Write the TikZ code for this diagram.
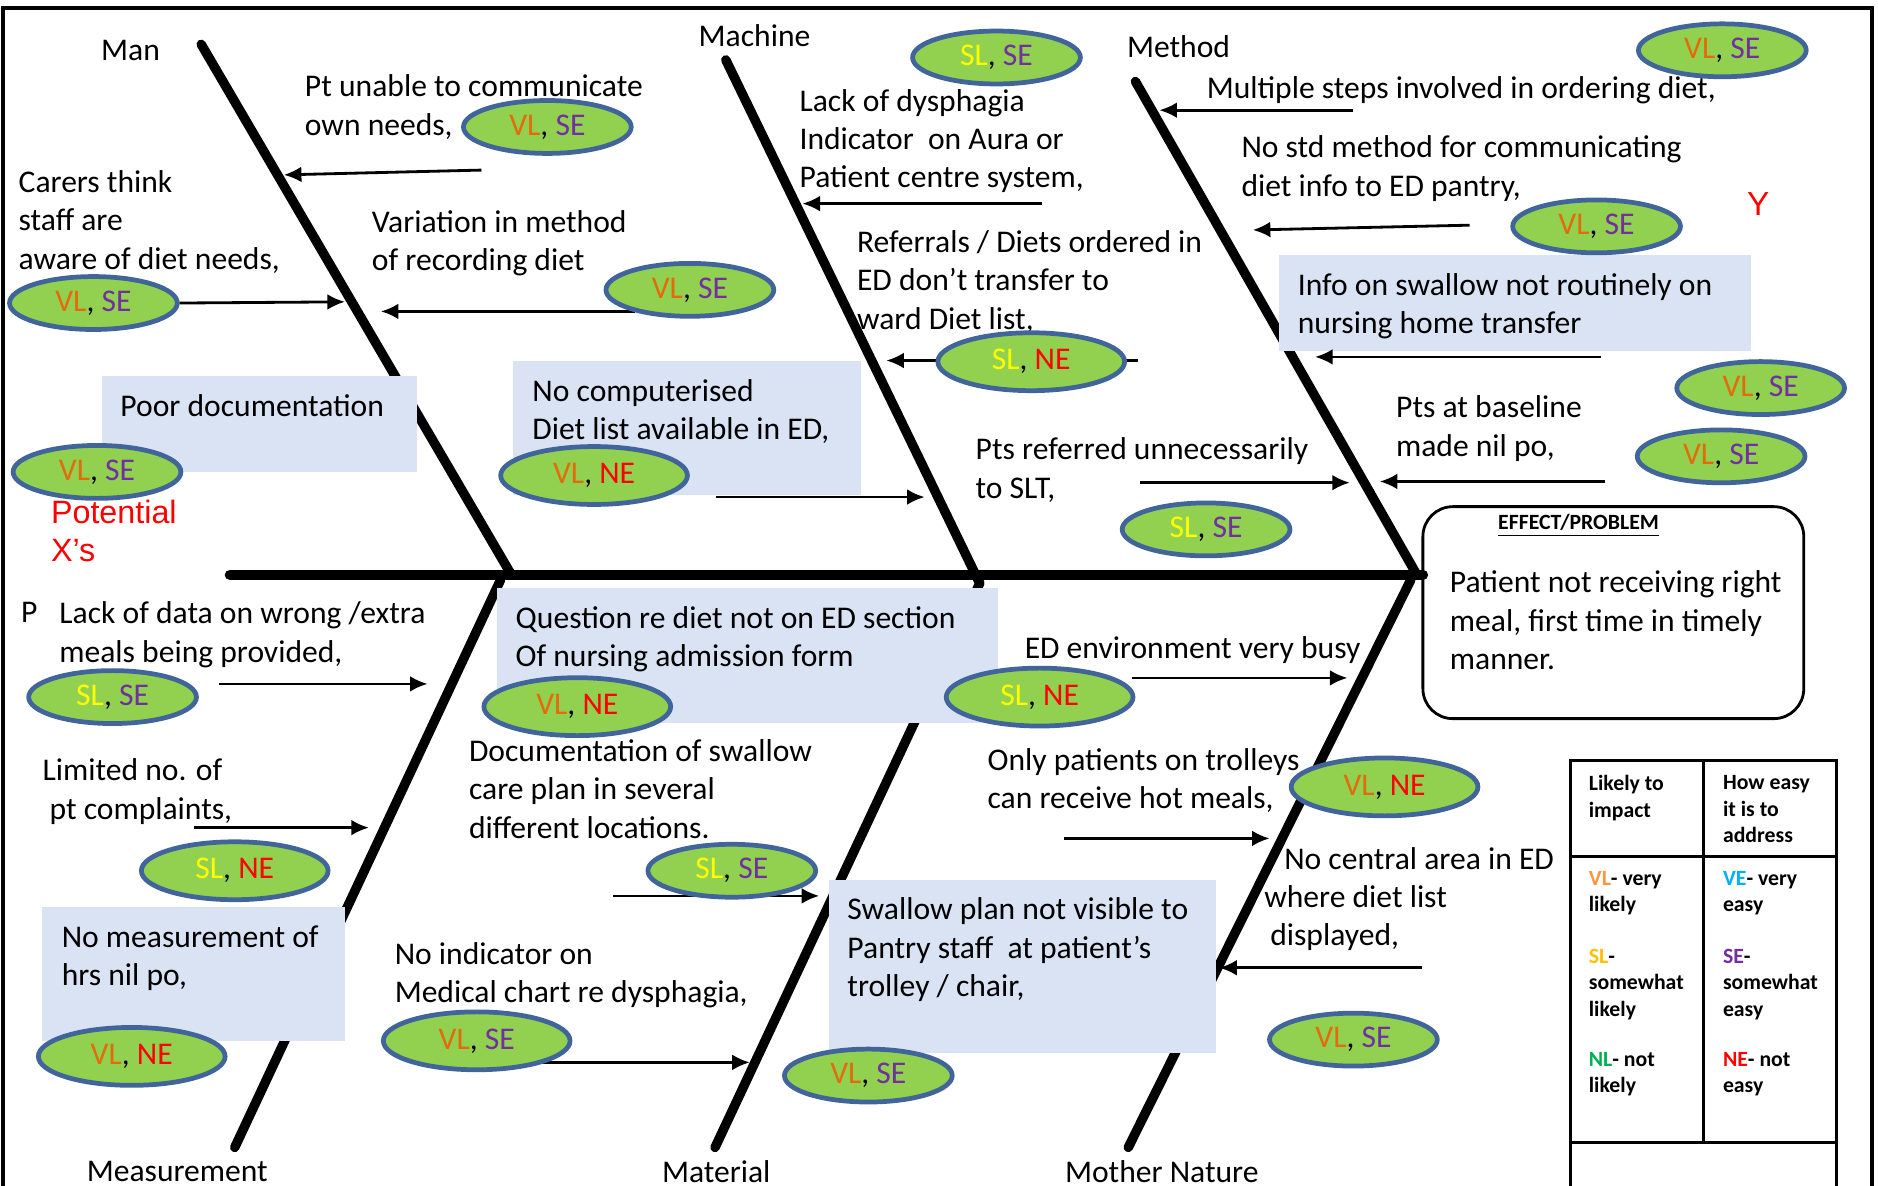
\documentclass[tikz,border=0pt]{standalone}
\usepackage{fontspec}
\setmainfont{Carlito}
\newfontfamily\arialfont{Liberation Sans}
\usepackage{xcolor}
\usepackage{tikz}
\usetikzlibrary{shapes,arrows,positioning,calc,arrows.meta}

\definecolor{notefill}{HTML}{DAE3F3}
\definecolor{leafgreen}{HTML}{92D050}
\definecolor{rimblue}{HTML}{41659A}
\definecolor{vlorange}{HTML}{E36C0A}
\definecolor{slyellow}{HTML}{FFFF00}
\definecolor{sepurple}{HTML}{7030A0}
\definecolor{nered}{HTML}{FF0000}
\definecolor{lgvl}{HTML}{F79646}
\definecolor{lgsl}{HTML}{FFC000}
\definecolor{lgnl}{HTML}{00B050}
\definecolor{lgve}{HTML}{00B0F0}

\newcommand{\rVL}{\textcolor{vlorange}{VL}}
\newcommand{\rSL}{\textcolor{slyellow}{SL}}
\newcommand{\rSE}{\textcolor{sepurple}{SE}}
\newcommand{\rNE}{\textcolor{nered}{NE}}

\tikzset{
    bone/.style={line width=2.7pt, line cap=round},
    spine/.style={line width=3pt, line cap=round},
    pointer/.style={line width=0.8pt, -{Latex[length=5pt,width=4.5pt]}},
    causetext/.style={anchor=north west, align=left, inner sep=0pt},
    rating/.style={ellipse, draw=rimblue, fill=leafgreen, line width=1.35pt, inner sep=0pt, minimum width=1.68cm, minimum height=0.53cm},
    ratingwide/.style={rating, minimum width=1.87cm, minimum height=0.58cm},
    legendtext/.style={anchor=north west, align=left, inner sep=0pt, font=\fontsize{6.2}{7.5}\selectfont\bfseries},
}

\begin{document}
\begin{tikzpicture}[x=0.012cm, y=-0.012cm, font=\fontsize{9}{10.9}\selectfont]
    \useasboundingbox (0,0) rectangle (1568,990);
    \draw [line width=1.1pt] (2.5,990) -- (2.5,6.5) -- (1563,6.5) -- (1563,990);

    \coordinate (man0) at (168,37);
    \coordinate (man1) at (427,480);
    \coordinate (mach0) at (606,50);
    \coordinate (mach1) at (818,487);
    \coordinate (meth0) at (948,68);
    \coordinate (meth1) at (1183,480);
    \coordinate (meas0) at (196,958);
    \coordinate (meas1) at (418,484);
    \coordinate (mat0) at (597,958);
    \coordinate (mat1) at (818,487);
    \coordinate (moth0) at (942,958);
    \coordinate (moth1) at (1178,484);
    \coordinate (tail) at (192,480);
    \coordinate (head) at (1188,480);
    \draw [spine] (tail) -- (head);
    \draw [bone] (man0) -- (man1);
    \draw [bone] (mach0) -- (mach1);
    \draw [bone] (meth0) -- (meth1);
    \draw [bone] (meas0) -- (meas1);
    \draw [bone] (mat0) -- (mat1);
    \draw [bone] (moth0) -- (moth1);

    \node (lMan) at (109,42) {Man};
    \node (lMachine) at (630,30) {Machine};
    \node (lMethod) at (984,39) {Method};
    \node (lMeas) at (148,978) {Measurement};
    \node (lMat) at (598,978) {Material};
    \node (lMoth) at (970,978) {Mother Nature};

    \fill [notefill] (85,314) rectangle (348,394);
    \fill [notefill] (428,301) rectangle (719,413);
    \fill [notefill] (1068,213) rectangle (1462,293);
    \fill [notefill] (415,491) rectangle (833,604);
    \fill [notefill] (35,757) rectangle (288,869);
    \fill [notefill] (692,735) rectangle (1015,879);

    \node [causetext] (tPoor) at (100,329) {Poor documentation};
    \node [causetext] (tComp) at (444,316) {No computerised\\Diet list available in ED,};
    \node [causetext] (tInfo) at (1083,228) {Info on swallow not routinely on\\nursing home transfer};
    \node [causetext] (tQuest) at (430,506) {Question re diet not on ED section\\Of nursing admission form};
    \node [causetext] (tNoMeas) at (51,772) {No measurement of\\hrs nil po,};
    \node [causetext] (tSwal) at (707,749) {Swallow plan not visible to\\Pantry staff\ \ at patient’s\\trolley / chair,};

    \node [causetext] (tPt) at (254,62) {Pt unable to communicate\\own needs,};
    \node [causetext] (tCarers) at (15,142) {Carers think\\staff are\\aware of diet needs,};
    \node [causetext] (tVar) at (310,175) {Variation in method\\of recording diet};
    \node [causetext] (tLack) at (667,74) {Lack of dysphagia\\Indicator\ \ on Aura or\\Patient centre system,};
    \node [causetext] (tRef) at (715,192) {Referrals / Diets ordered in\\ED don’t transfer to\\ward Diet list,};
    \node [causetext] (tMulti) at (1007,63) {Multiple steps involved in ordering diet,};
    \node [causetext] (tStd) at (1036,113) {No std method for communicating\\diet info to ED pantry,};
    \node [causetext] (tBase) at (1165,330) {Pts at baseline\\made nil po,};
    \node [causetext] (tSlt) at (814,365) {Pts referred unnecessarily\\to SLT,};
    \node [causetext, text=nered, font=\arialfont\fontsize{9.2}{10.9}\selectfont] (tPot) at (42,417) {Potential\\X’s};
    \node [text=nered, font=\arialfont\fontsize{9.5}{11}\selectfont] (tY) at (1468,170) {Y};
    \node [causetext] (tP) at (17,502) {P};
    \node [causetext] (tData) at (49,502) {Lack of data on wrong /extra\\meals being provided,};
    \node [causetext] (tLimited) at (35,633) {Limited no. of\\\hspace*{0.07cm}pt complaints,};
    \node [causetext] (tDocu) at (391,617) {Documentation of swallow\\care plan in several\\different locations.};
    \node [causetext] (tNoInd) at (329,786) {No indicator on\\Medical chart re dysphagia,};
    \node [causetext] (tBusy) at (855,531) {ED environment very busy};
    \node [causetext] (tTroll) at (824,624) {Only patients on trolleys\\can receive hot meals,};
    \node [causetext] (tCentr) at (1055,707) {\hspace*{0.2cm}No central area in ED\\where diet list\\\hspace*{0.06cm}displayed,};

    \draw [line width=0.8pt, rounded corners=0.3cm] (1188,423) rectangle (1506,600);
    \node [font=\fontsize{6.2}{7.5}\selectfont\bfseries] (effTitle) at (1318,439) {\underline{EFFECT/PROBLEM}};
    \node [causetext] (effText) at (1210,476) {Patient not receiving right\\meal, first time in timely\\manner.};

    \draw [line width=0.8pt] (1311,990) -- (1311,635) -- (1533,635) -- (1533,990);
    \draw [line width=0.8pt] (1422,635) -- (1422,954);
    \draw [line width=0.8pt] (1311,715) -- (1533,715);
    \draw [line width=0.8pt] (1311,954) -- (1533,954);
    \node [legendtext] (lgHead1) at (1326,647) {Likely to\\impact};
    \node [legendtext] (lgHead2) at (1438,647) {How easy\\it is to\\address};
    \node [legendtext] (lgVL) at (1326,727) {\textcolor{lgvl}{VL}- very\\likely};
    \node [legendtext] (lgSL) at (1326,792) {\textcolor{lgsl}{SL}-\\somewhat\\likely};
    \node [legendtext] (lgNL) at (1326,878) {\textcolor{lgnl}{NL}- not\\likely};
    \node [legendtext] (lgVE) at (1438,727) {\textcolor{lgve}{VE}- very\\easy};
    \node [legendtext] (lgSE) at (1438,792) {\textcolor{sepurple}{SE}-\\somewhat\\easy};
    \node [legendtext] (lgNE) at (1438,878) {\textcolor{nered}{NE}- not\\easy};

    \coordinate (pt0) at (402,142);
    \coordinate (pt1) at (237,146);
    \coordinate (carers1) at (288,252);
    \coordinate (var0) at (530,260);
    \coordinate (var1) at (318,260);
    \coordinate (lack0) at (870,170);
    \coordinate (lack1) at (670,170);
    \coordinate (ref0) at (950,301);
    \coordinate (ref1) at (740,301);
    \coordinate (comp0) at (598,415);
    \coordinate (comp1) at (772,415);
    \coordinate (multi0) at (1130,92);
    \coordinate (multi1) at (968,92);
    \coordinate (std0) at (1227,188);
    \coordinate (std1) at (1046,192);
    \coordinate (info0) at (1337,298);
    \coordinate (info1) at (1098,298);
    \coordinate (slt0) at (952,403);
    \coordinate (slt1) at (1127,403);
    \coordinate (base0) at (1340,402);
    \coordinate (base1) at (1152,402);
    \coordinate (data0) at (183,571);
    \coordinate (data1) at (357,571);
    \coordinate (compl0) at (162,691);
    \coordinate (compl1) at (308,691);
    \coordinate (docu0) at (512,748);
    \coordinate (docu1) at (684,748);
    \coordinate (ind0) at (450,887);
    \coordinate (ind1) at (626,887);
    \coordinate (busy0) at (945,566);
    \coordinate (busy1) at (1125,566);
    \coordinate (troll0) at (888,700);
    \coordinate (troll1) at (1060,700);
    \coordinate (centr0) at (1187,808);
    \coordinate (centr1) at (1018,808);

    \draw [pointer] (pt0) -- (pt1);
    \draw [pointer] (var0) -- (var1);
    \draw [pointer] (lack0) -- (lack1);
    \draw [pointer] (ref0) -- (ref1);
    \draw [pointer] (comp0) -- (comp1);
    \draw [pointer] (multi0) -- (multi1);
    \draw [pointer] (std0) -- (std1);
    \draw [pointer] (info0) -- (info1);
    \draw [pointer] (slt0) -- (slt1);
    \draw [pointer] (base0) -- (base1);
    \draw [pointer] (data0) -- (data1);
    \draw [pointer] (compl0) -- (compl1);
    \draw [pointer] (docu0) -- (docu1);
    \draw [pointer] (ind0) -- (ind1);
    \draw [pointer] (busy0) -- (busy1);
    \draw [pointer] (troll0) -- (troll1);
    \draw [pointer] (centr0) -- (centr1);

    \node [rating] (rPt) at (457,106) {\rVL, \rSE};
    \node [rating] (rCarers) at (78,253) {\rVL, \rSE};
    \node [rating] (rVar) at (576,242) {\rVL, \rSE};
    \node [rating] (rLack) at (832,48) {\rSL, \rSE};
    \node [rating] (rMulti) at (1438,42) {\rVL, \rSE};
    \node [rating] (rStd) at (1333,189) {\rVL, \rSE};
    \node [ratingwide] (rRef) at (861,302) {\rSL, \rNE};
    \node [rating] (rPoor) at (81,394) {\rVL, \rSE};
    \node [ratingwide] (rComp) at (496,397) {\rVL, \rNE};
    \node [rating] (rInfo) at (1470,324) {\rVL, \rSE};
    \node [rating] (rBase) at (1437,381) {\rVL, \rSE};
    \node [rating] (rSlt) at (1007,442) {\rSL, \rSE};
    \node [rating] (rData) at (94,582) {\rSL, \rSE};
    \node [ratingwide] (rQuest) at (482,590) {\rVL, \rNE};
    \node [ratingwide] (rBusy) at (868,582) {\rSL, \rNE};
    \node [ratingwide] (rCompl) at (196,727) {\rSL, \rNE};
    \node [rating] (rDocu) at (611,727) {\rSL, \rSE};
    \node [ratingwide] (rTroll) at (1156,657) {\rVL, \rNE};
    \node [ratingwide] (rNoMeas) at (110,882) {\rVL, \rNE};
    \node [ratingwide] (rInd) at (398,869) {\rVL, \rSE};
    \node [rating] (rSwal) at (725,898) {\rVL, \rSE};
    \node [rating] (rCentr) at (1130,868) {\rVL, \rSE};

    \draw [pointer] (rCarers.east) -- (carers1);
\end{tikzpicture}
\end{document}
